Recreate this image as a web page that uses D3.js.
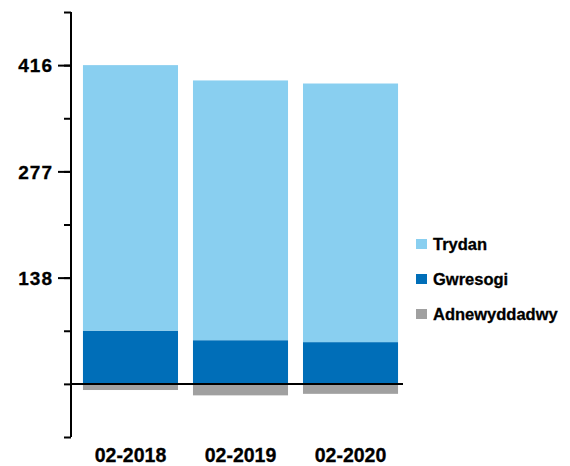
<!DOCTYPE html>
<html>
<head>
<meta charset="utf-8">
<script src="https://cdn.jsdelivr.net/npm/d3@7"></script>
<style>
  body { margin: 0; background: #fff; }
  text { font-family: "Liberation Sans", Arial, sans-serif; font-weight: bold; fill: #000; stroke: #000; stroke-width: 0.3px; }
</style>
</head>
<body>
<div id="chart"></div>
<script>
  // data
  var categories = ['02-2018', '02-2019', '02-2020']
  var trydan = [346.5, 339, 337.5]
  var gwresogi = [69.5, 57, 54.5]
  var adnewyddadwy = [-8, -15, -13]
  var seriesNames = ['Trydan', 'Gwresogi', 'Adnewyddadwy']
  var tickValues = [138.67, 277.33, 416]
  var tickLabels = ['138', '277', '416']

  var width = 570, height = 466

  var svg = d3.select('#chart')
    .append('svg')
    .attr('width', width)
    .attr('height', height)

  var yScale = d3.scaleLinear().domain([-69.33, 485.33]).range([437, 12])

  var xScale = d3.scaleBand()
    .domain(categories)
    .range([68, 413])
    .paddingInner(0.136)
    .paddingOuter(0.136)

  var colorScale = d3.scaleOrdinal()
    .domain(seriesNames)
    .range(['#89cff0', '#006eb8', '#a0a0a0'])

  var rows = categories.map(function(c, i) {
    return { cat: c, Gwresogi: gwresogi[i], Trydan: trydan[i], neg: adnewyddadwy[i] }
  })

  var stack = d3.stack().keys(['Gwresogi', 'Trydan'])(rows)

  // stacked positive bars
  svg.append('g').selectAll('g')
    .data(stack)
    .enter().append('g')
    .attr('fill', function(d) { return colorScale(d.key) })
    .selectAll('rect')
    .data(function(d) { return d })
    .enter().append('rect')
    .attr('x', function(d) { return xScale(d.data.cat) })
    .attr('y', function(d) { return yScale(d[1]) })
    .attr('height', function(d) { return yScale(d[0]) - yScale(d[1]) })
    .attr('width', xScale.bandwidth())

  // negative bars
  svg.append('g').selectAll('rect')
    .data(rows)
    .enter().append('rect')
    .attr('x', function(d) { return xScale(d.cat) })
    .attr('y', yScale(0))
    .attr('height', function(d) { return yScale(d.neg) - yScale(0) })
    .attr('width', xScale.bandwidth())
    .attr('fill', colorScale('Adnewyddadwy'))

  // zero line
  svg.append('line')
    .attr('x1', 71).attr('x2', 403)
    .attr('y1', yScale(0)).attr('y2', yScale(0))
    .attr('stroke', '#000').attr('stroke-width', 2)

  // y axis: minor ticks
  var minor = d3.range(-1, 8).map(function(i) { return i * 69.33 })
  var yMinor = d3.axisLeft(yScale).tickValues(minor).tickSize(7).tickFormat('')
  var gMinor = svg.append('g')
    .attr('transform', 'translate(71,0)')
    .call(yMinor)
  gMinor.select('.domain').remove()
  gMinor.selectAll('line').attr('stroke', '#000').attr('stroke-width', 2)

  var yAxis = d3.axisLeft(yScale)
    .tickValues(tickValues)
    .tickSize(13)
    .tickPadding(5)
    .tickFormat(function(d, i) { return tickLabels[i] })
  var gy = svg.append('g')
    .attr('transform', 'translate(71,0)')
    .call(yAxis)
  gy.select('.domain').remove()
  gy.selectAll('line').attr('stroke', '#000').attr('stroke-width', 2)
  gy.selectAll('text')
    .style('font-size', '19px')
    .style('letter-spacing', '1px')
    .attr('dy', '0.36em')

  svg.append('line')
    .attr('x1', 71).attr('x2', 71)
    .attr('y1', yScale(485.33)).attr('y2', yScale(-69.33))
    .attr('stroke', '#000').attr('stroke-width', 2)

  // x labels
  svg.append('g').selectAll('text')
    .data(categories)
    .enter().append('text')
    .attr('x', function(d) { return xScale(d) + xScale.bandwidth() / 2 })
    .attr('y', 462)
    .attr('text-anchor', 'middle')
    .style('font-size', '19.5px')
    .text(function(d) { return d })

  // legend
  var legend = svg.append('g').selectAll('g')
    .data(seriesNames)
    .enter().append('g')
    .attr('transform', function(d, i) { return 'translate(416,' + (244 + i * 35) + ')' })
  legend.append('rect')
    .attr('x', 0).attr('y', -5)
    .attr('width', 11).attr('height', 10)
    .attr('fill', function(d) { return colorScale(d) })
  legend.append('text')
    .attr('x', 17).attr('y', 0)
    .attr('dy', '0.36em')
    .style('font-size', '16.5px')
    .text(function(d) { return d })
</script>
</body>
</html>
